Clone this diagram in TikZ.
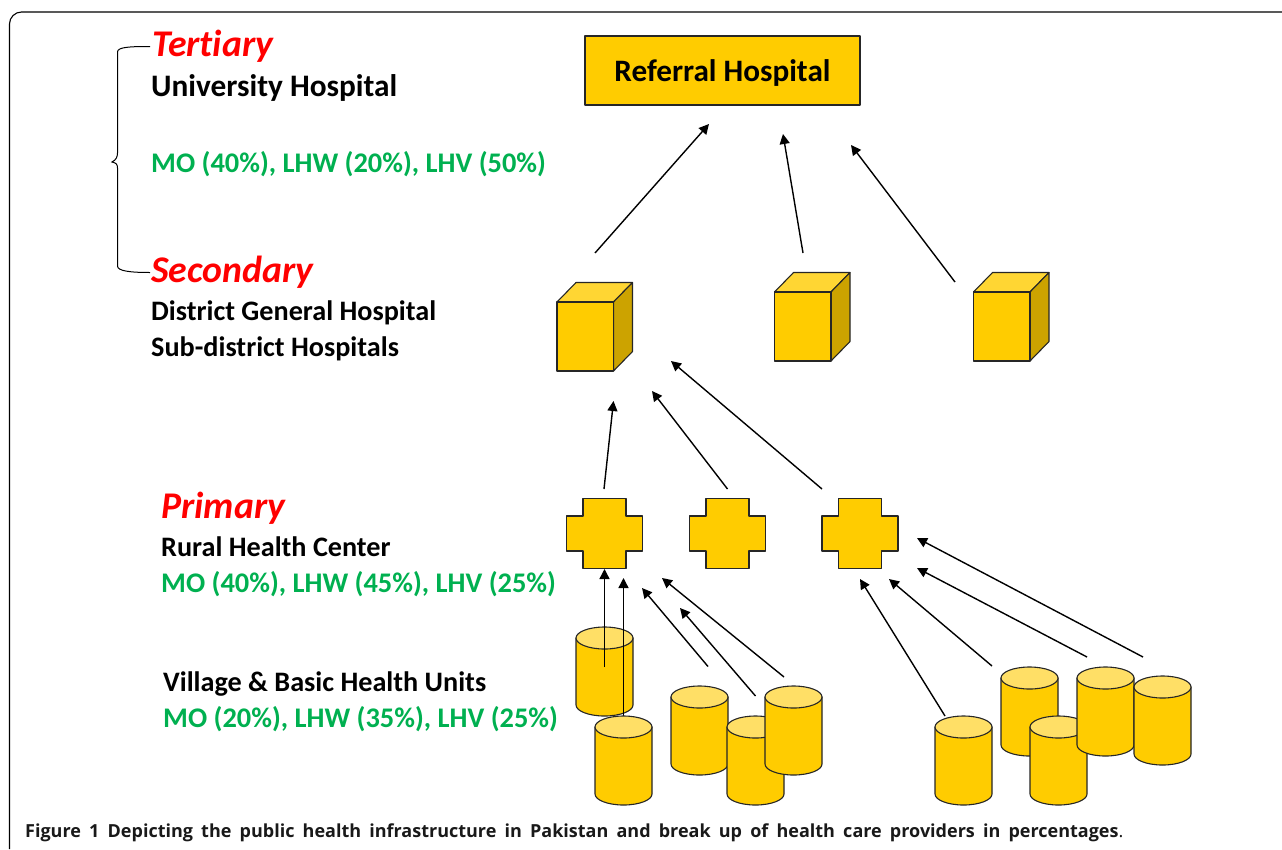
\documentclass[tikz,border=0pt]{standalone}
\usepackage{fontspec}
\setmainfont[Ligatures=NoCommon]{Carlito}
\newfontfamily\capfont[WordSpace=1.75]{Open Sans}
\usetikzlibrary{arrows.meta}
\definecolor{gold}{HTML}{FFCC00}
\definecolor{goldtop}{HTML}{FFDF66}
\definecolor{cubetop}{HTML}{FFD633}
\definecolor{cubeside}{HTML}{CCA300}
\definecolor{provgreen}{HTML}{00B050}
\tikzset{
  shapeline/.style={draw=black!85,line width=1.1pt,line join=round},
  link/.style={draw=black,line width=1.4pt,-{Triangle[length=10pt,width=10pt]}},
  lvl/.style={anchor=base west,inner sep=0pt,text=red,font=\fontsize{37.7}{38}\selectfont\bfseries\itshape},
  place/.style={anchor=base west,inner sep=0pt,text=black,font=\fontsize{28.2}{29}\selectfont\bfseries},
  prov/.style={anchor=base west,inner sep=0pt,text=provgreen,font=\fontsize{28.4}{29}\selectfont\bfseries},
}
\newcommand{\cubeat}[3]{% name, front-left x, front-top y
  \begin{scope}[shift={(#2,#3)}]
    \filldraw[shapeline,fill=cubetop] (0,0)--(19,-19.5)--(75.5,-19.5)--(56.5,0)--cycle;
    \filldraw[shapeline,fill=cubeside] (56.5,0)--(75.5,-19.5)--(75.5,49.5)--(56.5,69)--cycle;
    \filldraw[shapeline,fill=gold] (0,0) rectangle (56.5,69);
    \coordinate (#1) at (28,34);
  \end{scope}}
\newcommand{\crossat}[3]{% name, centre x, centre y
  \begin{scope}[shift={(#2,#3)}]
    \filldraw[shapeline,fill=gold] (-21.5,-35)--(21.5,-35)--(21.5,-17.5)--(38,-17.5)--(38,17.5)--(21.5,17.5)--(21.5,35)--(-21.5,35)--(-21.5,17.5)--(-38,17.5)--(-38,-17.5)--(-21.5,-17.5)--cycle;
    \coordinate (#1) at (0,0);
  \end{scope}}
\newcommand{\cylat}[3]{% name, left x, top y
  \begin{scope}[shift={(#2,#3)}]
    \filldraw[shapeline,fill=gold] (0,11) -- (0,78) arc[start angle=180,end angle=0,x radius=28.5,y radius=11] -- (57,11) -- cycle;
    \filldraw[shapeline,fill=goldtop] (28.5,11) ellipse[x radius=28.5,y radius=11];
    \coordinate (#1) at (28.5,44);
  \end{scope}}
\begin{document}
\begin{tikzpicture}[x=1pt,y=-1pt]
\useasboundingbox (0,0) rectangle (1282,849);
% frame
\draw[black,line width=1.1pt] (9.5,849) -- (9.5,24) arc[start angle=180,end angle=270,radius=12] -- (1282,12);
% bracket
\coordinate (brTop) at (150,46.5);
\coordinate (brTip) at (112,162);
\coordinate (brBot) at (150,272.5);
\draw[black,line width=1pt] (brTop) .. controls (130,46.5) and (117.5,47) .. (117.5,52) -- (117.5,153) .. controls (117.5,157) and (116,160) .. (brTip) .. controls (116,163) and (117.5,164) .. (117.5,168) -- (117.5,266) .. controls (117.5,271) and (130,272.5) .. (brBot);
% left labels
\node[lvl] (tert) at (152,56) {Tertiary};
\node[place,font=\fontsize{31.3}{32}\selectfont\bfseries] (univ) at (151,96) {University Hospital};
\node[prov] (provA) at (151,172) {MO (40\%), LHW (20\%), LHV (50\%)};
\node[lvl] (sec) at (151,282) {Secondary};
\node[place] (dist) at (151,320) {District General Hospital};
\node[place] (subd) at (151,356) {Sub-district Hospitals};
\node[lvl] (prim) at (161,518) {Primary};
\node[place] (rural) at (161,556) {Rural Health Center};
\node[prov] (provB) at (161,592) {MO (40\%), LHW (45\%), LHV (25\%)};
\node[place] (vill) at (163,691) {Village \& Basic Health Units};
\node[prov] (provC) at (163,727) {MO (20\%), LHW (35\%), LHV (25\%)};
% referral
\node[shapeline,fill=gold,minimum width=275pt,minimum height=69pt,inner sep=0pt,font=\fontsize{31.2}{32}\selectfont\bfseries] (ref) at (722.5,70.5) {\raisebox{-11pt}[0pt][0pt]{Referral Hospital}};
% cubes
\cubeat{cubeA}{557}{302}
\cubeat{cubeB}{774.5}{292}
\cubeat{cubeC}{973.5}{292}
% crosses
\crossat{crossA}{604.5}{533.5}
\crossat{crossB}{727.5}{533.5}
\crossat{crossC}{860}{533.5}
% arrow ends
\coordinate (t1s) at (595,253); \coordinate (t1e) at (709,124);
\coordinate (t2s) at (803,253); \coordinate (t2e) at (783,134);
\coordinate (t3s) at (955,282); \coordinate (t3e) at (851,145);
\coordinate (m1s) at (604,489); \coordinate (m1e) at (613.5,401);
\coordinate (m2s) at (727.5,489); \coordinate (m2e) at (652,391);
\coordinate (m3s) at (822,489); \coordinate (m3e) at (671,361);
\coordinate (b1s) at (604.5,667); \coordinate (b1e) at (604.5,569);
\coordinate (b2s) at (623.5,716); \coordinate (b2e) at (623.5,578);
\coordinate (b3s) at (708,666.5); \coordinate (b3e) at (642,588);
\coordinate (b4s) at (755.5,696); \coordinate (b4e) at (680,608);
\coordinate (b5s) at (784,677); \coordinate (b5e) at (662,578);
\coordinate (r1s) at (945,716); \coordinate (r1e) at (860,579);
\coordinate (r2s) at (992,666); \coordinate (r2e) at (889,579);
\coordinate (r3s) at (1087,657); \coordinate (r3e) at (917,568);
\coordinate (r4s) at (1143,657); \coordinate (r4e) at (917,538);
% cylinders and arrows
\cylat{cylA}{576}{627}
\foreach \a in {t1,t2,t3,m1,m2,m3,b1,b2,b3,b4,b5,r1,r2,r3,r4}{\draw[link] (\a s) -- (\a e);}
\cylat{cylB}{595}{716}
\cylat{cylC}{671}{686}
\cylat{cylD}{727}{716}
\cylat{cylE}{765}{686}
\cylat{cylF}{935}{716}
\cylat{cylG}{1001}{667}
\cylat{cylH}{1030}{716}
\cylat{cylI}{1077}{667}
\cylat{cylJ}{1134}{676}
% caption
\node[anchor=base west,inner sep=0pt,text=black!90,font=\capfont\fontsize{18}{18}\selectfont] (cap) at (25,837) {\textbf{Figure 1} \textbf{Depicting the public health infrastructure in Pakistan and break up of health care providers in percentages}.};
\end{tikzpicture}
\end{document}
